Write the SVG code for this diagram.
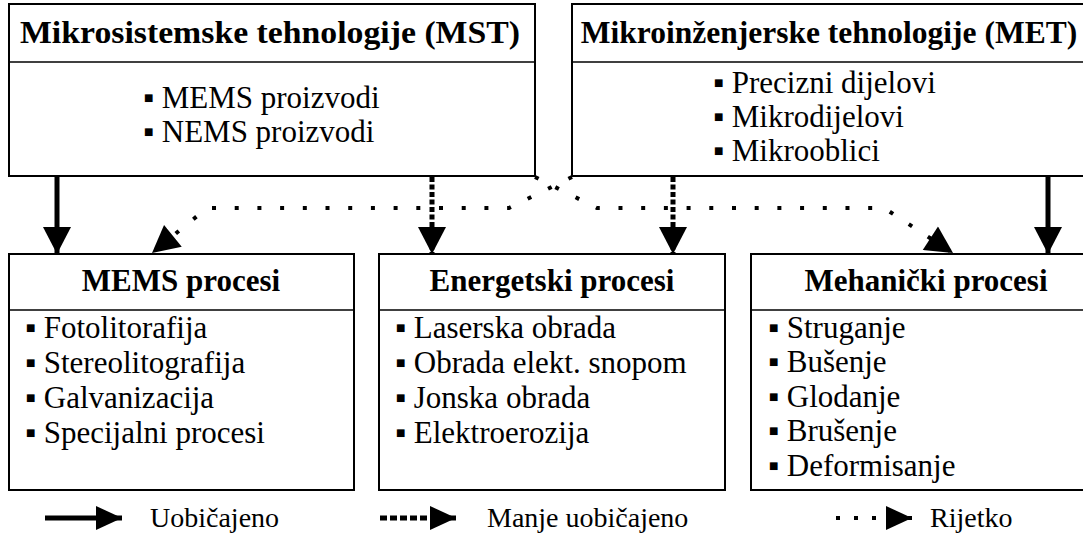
<svg xmlns="http://www.w3.org/2000/svg" width="1083" height="535" viewBox="0 0 1083 535">
<style>
.box{fill:#fff;stroke:#000;stroke-width:2}
.div{stroke:#000;stroke-width:1.5}
text{font-family:'Liberation Serif','Times New Roman','DejaVu Serif',serif;fill:#000}
.t{font-weight:bold;font-size:31px;text-anchor:middle}
.b{font-size:31px}
.l{font-size:28px}
.solid{stroke:#000;stroke-width:5;fill:none}
.dash{stroke:#000;stroke-width:5;fill:none;stroke-dasharray:5 2.5}
.dot{stroke:#000;stroke-width:4;fill:none;stroke-dasharray:4 18.7}
</style>
<defs>
<marker id="ah" markerUnits="userSpaceOnUse" markerWidth="28" markerHeight="28" viewBox="0 0 27 28" refX="27" refY="14" orient="auto">
<path d="M0,0 L27,14 L0,28 Z" fill="#000"/>
</marker>
<marker id="ahs" markerUnits="userSpaceOnUse" markerWidth="26" markerHeight="24" viewBox="0 0 26 24" refX="26" refY="12" orient="auto">
<path d="M0,0 L26,12 L0,24 Z" fill="#000"/>
</marker>
</defs>
<g id="mst">
<rect class="box" x="9" y="4" width="526" height="172"/>
<line class="div" x1="9" y1="62" x2="535" y2="62"/>
<text class="t" x="270" y="43" style="font-size:32px" textLength="500" lengthAdjust="spacingAndGlyphs">Mikrosistemske tehnologije (MST)</text>
<text class="b" x="143" y="108">▪ MEMS proizvodi</text>
<text class="b" x="143" y="142">▪ NEMS proizvodi</text>
</g>
<g id="met">
<rect class="box" x="572" y="4" width="530" height="172"/>
<line class="div" x1="572" y1="62" x2="1090" y2="62"/>
<text class="t" x="829" y="43" style="font-size:31.5px">Mikroinženjerske tehnologije (MET)</text>
<text class="b" x="713" y="93">▪ Precizni dijelovi</text>
<text class="b" x="713" y="127">▪ Mikrodijelovi</text>
<text class="b" x="713" y="161">▪ Mikrooblici</text>
</g>
<g id="mems">
<rect class="box" x="9" y="254" width="345" height="236"/>
<line class="div" x1="9" y1="310" x2="354" y2="310"/>
<text class="t" x="181" y="291">MEMS procesi</text>
<text class="b" x="25" y="338">▪ Fotolitorafija</text>
<text class="b" x="25" y="373">▪ Stereolitografija</text>
<text class="b" x="25" y="408">▪ Galvanizacija</text>
<text class="b" x="25" y="443">▪ Specijalni procesi</text>
</g>
<g id="energetski">
<rect class="box" x="379" y="254" width="346" height="236"/>
<line class="div" x1="379" y1="310" x2="725" y2="310"/>
<text class="t" x="552" y="291">Energetski procesi</text>
<text class="b" x="395" y="338">▪ Laserska obrada</text>
<text class="b" x="395" y="373">▪ Obrada elekt. snopom</text>
<text class="b" x="395" y="408">▪ Jonska obrada</text>
<text class="b" x="395" y="443">▪ Elektroerozija</text>
</g>
<g id="mehanicki">
<rect class="box" x="751" y="254" width="350" height="236"/>
<line class="div" x1="751" y1="310" x2="1090" y2="310"/>
<text class="t" x="926" y="291">Mehanički procesi</text>
<text class="b" x="768" y="338">▪ Struganje</text>
<text class="b" x="768" y="372">▪ Bušenje</text>
<text class="b" x="768" y="407">▪ Glodanje</text>
<text class="b" x="768" y="441">▪ Brušenje</text>
<text class="b" x="768" y="476">▪ Deformisanje</text>
</g>
<g id="connectors">
<line class="solid" x1="57" y1="177" x2="57" y2="254" marker-end="url(#ah)"/>
<line class="solid" x1="1048" y1="177" x2="1048" y2="254" marker-end="url(#ah)"/>
<line class="dash" x1="432" y1="177" x2="432" y2="254" marker-end="url(#ah)"/>
<line class="dash" x1="673" y1="177" x2="673" y2="254" marker-end="url(#ah)"/>
<path class="dot" d="M572,177 L509,208 L207,208 L152,253" marker-end="url(#ah)"/>
<path class="dot" d="M535,177 L597,208 L884,208 L953,253" marker-end="url(#ah)"/>
</g>
<g id="legend">
<line class="solid" x1="45" y1="518" x2="122" y2="518" marker-end="url(#ahs)"/>
<text class="l" x="150" y="527">Uobičajeno</text>
<line class="solid" x1="380" y1="518" x2="456" y2="518" style="stroke-dasharray:7 3" marker-end="url(#ahs)"/>
<text class="l" x="487" y="527">Manje uobičajeno</text>
<line class="solid" x1="836" y1="518" x2="912" y2="518" style="stroke-width:4;stroke-dasharray:4 14" marker-end="url(#ahs)"/>
<text class="l" x="930" y="527">Rijetko</text>
</g>
</svg>
